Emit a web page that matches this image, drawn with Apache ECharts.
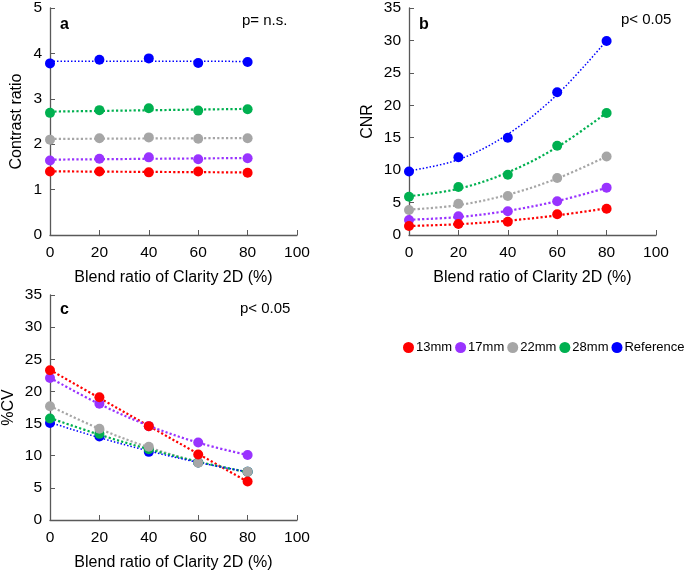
<!DOCTYPE html>
<html><head><meta charset="utf-8">
<script src="https://cdn.jsdelivr.net/npm/echarts@6/dist/echarts.min.js"></script>
<style>html,body{margin:0;padding:0;background:#fff}#c{width:685px;height:572px}</style>
</head><body><div id="c"></div>
<script>
const xValues = [0, 20, 40, 60, 80];
const seriesNames = ['13mm', '17mm', '22mm', '28mm', 'Reference'];
const colors = ['#FF0000', '#9933FF', '#A6A6A6', '#00B050', '#0000FF'];

// Panel a: Contrast ratio
const contrast13 = [1.40, 1.40, 1.38, 1.40, 1.37];
const contrast17 = [1.64, 1.68, 1.71, 1.67, 1.69];
const contrast22 = [2.10, 2.13, 2.15, 2.12, 2.13];
const contrast28 = [2.69, 2.75, 2.79, 2.74, 2.77];
const contrastRef = [3.78, 3.86, 3.89, 3.79, 3.81];

// Panel b: CNR
const cnr13 = [1.4, 1.7, 2.05, 3.2, 4.05];
const cnr17 = [2.3, 2.9, 3.65, 5.2, 7.3];
const cnr22 = [3.85, 4.8, 6.0, 8.8, 12.1];
const cnr28 = [5.9, 7.4, 9.3, 13.75, 18.8];
const cnrRef = [9.8, 12.0, 15.0, 22.0, 29.9];

// Panel c: %CV
const cv13 = [23.3, 19.1, 14.6, 10.2, 6.0];
const cv17 = [22.1, 18.1, 14.6, 12.05, 10.1];
const cv22 = [17.7, 14.2, 11.4, 8.9, 7.5];
const cv28 = [15.8, 13.4, 11.0, 8.95, 7.5];
const cvRef = [15.1, 13.0, 10.6, 8.95, 7.5];

const panelLetters = ['a', 'b', 'c'];
const panelPText = ['p= n.s.', 'p< 0.05', 'p< 0.05'];
const yTitles = ['Contrast ratio', 'CNR', '%CV'];
const xTitle = 'Blend ratio of Clarity 2D (%)';

// least-squares polynomial fit (trendline), evaluated at the data x values
function polyFit(xs, ys, deg) {
  const n = deg + 1;
  const A = [], b = [];
  for (let i = 0; i < n; i++) {
    A.push([]);
    for (let j = 0; j < n; j++) {
      let s = 0; xs.forEach(x => s += Math.pow(x, i + j)); A[i].push(s);
    }
    let t = 0; xs.forEach((x, k) => t += ys[k] * Math.pow(x, i)); b.push(t);
  }
  for (let i = 0; i < n; i++) {
    let p = i;
    for (let r = i + 1; r < n; r++) if (Math.abs(A[r][i]) > Math.abs(A[p][i])) p = r;
    [A[i], A[p]] = [A[p], A[i]]; [b[i], b[p]] = [b[p], b[i]];
    for (let r = i + 1; r < n; r++) {
      const f = A[r][i] / A[i][i];
      for (let c = i; c < n; c++) A[r][c] -= f * A[i][c];
      b[r] -= f * b[i];
    }
  }
  const coef = new Array(n).fill(0);
  for (let i = n - 1; i >= 0; i--) {
    let s = b[i];
    for (let c = i + 1; c < n; c++) s -= A[i][c] * coef[c];
    coef[i] = s / A[i][i];
  }
  return xs.map(x => [x, coef.reduce((acc, c, i) => acc + c * Math.pow(x, i), 0)]);
}

const FONT = 'Liberation Sans, Arial, sans-serif';
const AXC = '#595959';

const panels = [
  {data: [contrast13, contrast17, contrast22, contrast28, contrastRef], deg: 1, ymax: 5, yint: 1, nameGap: 25},
  {data: [cnr13, cnr17, cnr22, cnr28, cnrRef], deg: 2, ymax: 35, yint: 5, nameGap: 33},
  {data: [cv13, cv17, cv22, cv28, cvRef], deg: 2, ymax: 35, yint: 5, nameGap: 33}
];

const grids = [
  {left: 50, top: 7, width: 247, height: 228},
  {left: 409, top: 7, width: 247, height: 228},
  {left: 50, top: 295, width: 247, height: 225}
];

const xAxes = [], yAxes = [], series = [];
panels.forEach((p, gi) => {
  xAxes.push({
    type: 'value', gridIndex: gi, min: 0, max: 100, interval: 20,
    name: xTitle, nameLocation: 'middle', nameGap: 35,
    nameTextStyle: {fontFamily: FONT, fontSize: 16, color: '#000'},
    axisLine: {lineStyle: {color: AXC, width: 1.3}},
    axisTick: {show: true, inside: true, length: 5, lineStyle: {color: AXC}},
    axisLabel: {fontFamily: FONT, fontSize: 15.5, color: '#000', margin: 10},
    splitLine: {show: false}
  });
  yAxes.push({
    type: 'value', gridIndex: gi, min: 0, max: p.ymax, interval: p.yint,
    name: yTitles[gi], nameLocation: 'middle', nameGap: p.nameGap,
    nameTextStyle: {fontFamily: FONT, fontSize: 16, color: '#000'},
    axisLine: {show: true, lineStyle: {color: AXC, width: 1.3}},
    axisTick: {show: true, inside: true, length: 5, lineStyle: {color: AXC}},
    axisLabel: {fontFamily: FONT, fontSize: 15.5, color: '#000', margin: 8},
    splitLine: {show: false}
  });
  p.data.forEach((ys, si) => {
    series.push({
      type: 'line', xAxisIndex: gi, yAxisIndex: gi, name: seriesNames[si] + ' trend',
      data: polyFit(xValues, ys, p.deg), smooth: p.deg > 1 ? 0.35 : false,
      showSymbol: false, symbol: 'none', silent: true, z: 2,
      lineStyle: {color: colors[si], width: si === 4 ? 1.5 : 2.2, type: si === 4 ? [1.5, 2] : [2.2, 2.2]}
    });
  });
  // draw Reference first so the phantoms sit on top (as in the original)
  for (let si = p.data.length - 1; si >= 0; si--) {
    const ys = p.data[si];
    series.push({
      type: 'scatter', xAxisIndex: gi, yAxisIndex: gi, name: seriesNames[si],
      data: xValues.map((x, k) => [x, ys[k]]), symbol: 'circle', symbolSize: 10,
      itemStyle: {color: colors[si], opacity: 1}, z: 3
    });
  }
});

const txt = (l, t, s, bold) => ({type: 'text', left: l, top: t, style: {text: s, font: (bold ? 'bold 16px ' : '15px ') + FONT, fill: '#000'}});

const option = {
  animation: false,
  backgroundColor: '#fff',
  grid: grids,
  xAxis: xAxes,
  yAxis: yAxes,
  series: series,
  legend: {
    data: seriesNames, left: 403, top: 341, width: 300, padding: 0,
    icon: 'circle', itemWidth: 11, itemHeight: 11, itemGap: 3,
    itemStyle: {opacity: 1},
    textStyle: {fontFamily: FONT, fontSize: 13, color: '#000', padding: [0, 0, 0, -3]}
  },
  graphic: [
    txt(60, 17, panelLetters[0], true), txt(242, 13, panelPText[0], false),
    txt(419, 17, panelLetters[1], true), txt(621, 12, panelPText[1], false),
    txt(60, 302, panelLetters[2], true), txt(240, 301, panelPText[2], false)
  ]
};
echarts.init(document.getElementById('c')).setOption(option);
</script></body></html>
